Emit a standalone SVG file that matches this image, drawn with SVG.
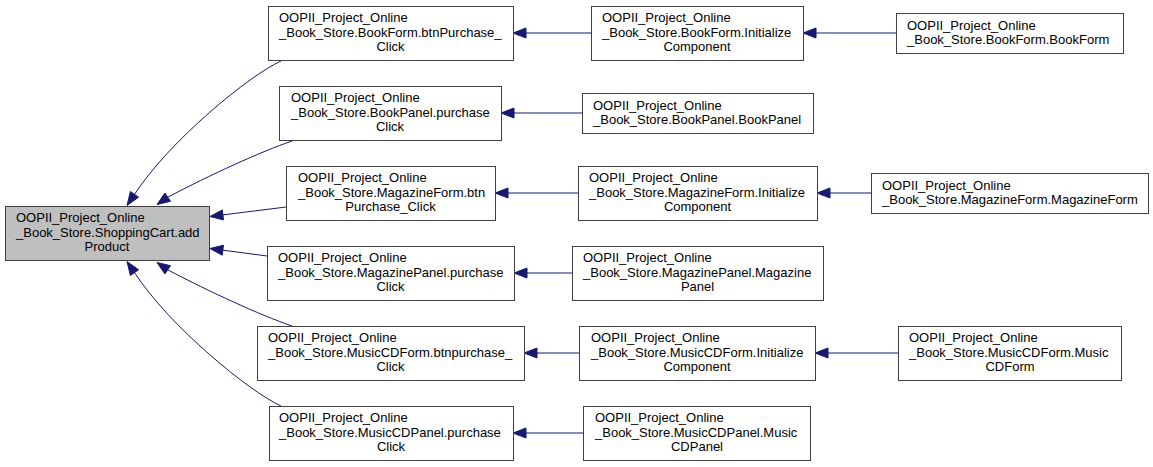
<svg xmlns="http://www.w3.org/2000/svg" width="1153" height="467" viewBox="0 0 1153 467">
<style>
.node rect{fill:#ffffff;stroke:#404040;stroke-width:1}
.node.main rect{fill:#bfbfbf}
text{font-family:"Liberation Sans",Arial,sans-serif;font-size:13px;fill:#000000}
.m{text-anchor:middle}
.edges path{fill:none;stroke:#191970;stroke-width:1}
.edges polygon{fill:#191970;stroke:#191970;stroke-width:1}
</style>
<rect x="0" y="0" width="1153" height="467" fill="#ffffff"/>
<g id="edges" class="edges">
<path d="M281,61 C250,75 170,140 134.5,194.4"/>
<polygon points="127,205.5 138.6,197.2 130.4,191.5"/>
<path d="M292,141 C260,152 210,175 167.7,197.2"/>
<polygon points="157,204.5 170.5,201.3 164.9,193"/>
<path d="M286,207 L222.9,214.9"/>
<polygon points="210,216.5 223.5,219.9 222.3,209.9"/>
<path d="M267,256 L222.9,250.2"/>
<polygon points="210,248.5 222.2,255.2 223.5,245.2"/>
<path d="M292,326 C260,315 210,292 167.7,269.8"/>
<polygon points="157,262.5 170.5,265.7 164.9,274"/>
<path d="M281,406 C250,392 170,327 134.5,272.6"/>
<polygon points="127,261.5 138.6,269.8 130.4,275.5"/>
<path d="M591,33 L526,33"/>
<polygon points="513,33 526,28 526,38"/>
<path d="M582,113 L514,113"/>
<polygon points="501,113 514,108 514,118"/>
<path d="M578,193 L508,193"/>
<polygon points="495,193 508,188 508,198"/>
<path d="M572,273 L527,273"/>
<polygon points="514,273 527,268 527,278"/>
<path d="M579,353 L537,353"/>
<polygon points="524,353 537,348 537,358"/>
<path d="M583,433 L526,433"/>
<polygon points="513,433 526,428 526,438"/>
<path d="M896,33 L816,33"/>
<polygon points="803,33 816,28 816,38"/>
<path d="M871,193 L830,193"/>
<polygon points="817,193 830,188 830,198"/>
<path d="M898,353 L828,353"/>
<polygon points="815,353 828,348 828,358"/>
</g>
<g id="node-main" class="node main">
<rect x="5.5" y="206.5" width="204" height="54"/>
<text x="16" y="222">OOPII_Project_Online</text>
<text x="16" y="236.5">_Book_Store.ShoppingCart.add</text>
<text class="m" x="107" y="251">Product</text>
</g>
<g id="node-bookform-btnpurchase" class="node">
<rect x="268.5" y="6.5" width="245" height="54"/>
<text x="279" y="22">OOPII_Project_Online</text>
<text x="279" y="36.5">_Book_Store.BookForm.btnPurchase_</text>
<text class="m" x="390.5" y="51">Click</text>
</g>
<g id="node-bookpanel-purchaseclick" class="node">
<rect x="279.5" y="86.5" width="222" height="54"/>
<text x="291" y="102">OOPII_Project_Online</text>
<text x="291" y="116.5">_Book_Store.BookPanel.purchase</text>
<text class="m" x="390" y="131">Click</text>
</g>
<g id="node-magazineform-btnpurchase" class="node">
<rect x="286.5" y="166.5" width="209" height="54"/>
<text x="298" y="182">OOPII_Project_Online</text>
<text x="298" y="196.5">_Book_Store.MagazineForm.btn</text>
<text class="m" x="390.5" y="211">Purchase_Click</text>
</g>
<g id="node-magazinepanel-purchaseclick" class="node">
<rect x="267.5" y="246.5" width="247" height="54"/>
<text x="278" y="262">OOPII_Project_Online</text>
<text x="278" y="276.5">_Book_Store.MagazinePanel.purchase</text>
<text class="m" x="390.5" y="291">Click</text>
</g>
<g id="node-musiccdform-btnpurchase" class="node">
<rect x="257.5" y="326.5" width="267" height="54"/>
<text x="268" y="342">OOPII_Project_Online</text>
<text x="268" y="356.5">_Book_Store.MusicCDForm.btnpurchase_</text>
<text class="m" x="390.5" y="371">Click</text>
</g>
<g id="node-musiccdpanel-purchaseclick" class="node">
<rect x="269.5" y="406.5" width="244" height="54"/>
<text x="279" y="422">OOPII_Project_Online</text>
<text x="279" y="436.5">_Book_Store.MusicCDPanel.purchase</text>
<text class="m" x="391" y="451">Click</text>
</g>
<g id="node-bookform-initializecomponent" class="node">
<rect x="591.5" y="6.5" width="212" height="54"/>
<text x="602" y="22">OOPII_Project_Online</text>
<text x="602" y="36.5">_Book_Store.BookForm.Initialize</text>
<text class="m" x="697" y="51">Component</text>
</g>
<g id="node-bookpanel-bookpanel" class="node">
<rect x="582.5" y="93.5" width="231" height="40"/>
<text x="593" y="109.5">OOPII_Project_Online</text>
<text x="593" y="124">_Book_Store.BookPanel.BookPanel</text>
</g>
<g id="node-magazineform-initializecomponent" class="node">
<rect x="578.5" y="166.5" width="239" height="54"/>
<text x="589" y="182">OOPII_Project_Online</text>
<text x="589" y="196.5">_Book_Store.MagazineForm.Initialize</text>
<text class="m" x="697.5" y="211">Component</text>
</g>
<g id="node-magazinepanel-magazinepanel" class="node">
<rect x="572.5" y="246.5" width="251" height="54"/>
<text x="583" y="262">OOPII_Project_Online</text>
<text x="583" y="276.5">_Book_Store.MagazinePanel.Magazine</text>
<text class="m" x="697.5" y="291">Panel</text>
</g>
<g id="node-musiccdform-initializecomponent" class="node">
<rect x="579.5" y="326.5" width="236" height="54"/>
<text x="591" y="342">OOPII_Project_Online</text>
<text x="591" y="356.5">_Book_Store.MusicCDForm.Initialize</text>
<text class="m" x="697" y="371">Component</text>
</g>
<g id="node-musiccdpanel-musiccdpanel" class="node">
<rect x="583.5" y="406.5" width="227" height="54"/>
<text x="595" y="422">OOPII_Project_Online</text>
<text x="595" y="436.5">_Book_Store.MusicCDPanel.Music</text>
<text class="m" x="697" y="451">CDPanel</text>
</g>
<g id="node-bookform-bookform" class="node">
<rect x="896.5" y="13.5" width="227" height="40"/>
<text x="907" y="29.5">OOPII_Project_Online</text>
<text x="907" y="44">_Book_Store.BookForm.BookForm</text>
</g>
<g id="node-magazineform-magazineform" class="node">
<rect x="871.5" y="173.5" width="277" height="40"/>
<text x="882" y="189.5">OOPII_Project_Online</text>
<text x="882" y="204">_Book_Store.MagazineForm.MagazineForm</text>
</g>
<g id="node-musiccdform-musiccdform" class="node">
<rect x="898.5" y="326.5" width="223" height="54"/>
<text x="909" y="342">OOPII_Project_Online</text>
<text x="909" y="356.5">_Book_Store.MusicCDForm.Music</text>
<text class="m" x="1010" y="371">CDForm</text>
</g>
</svg>
